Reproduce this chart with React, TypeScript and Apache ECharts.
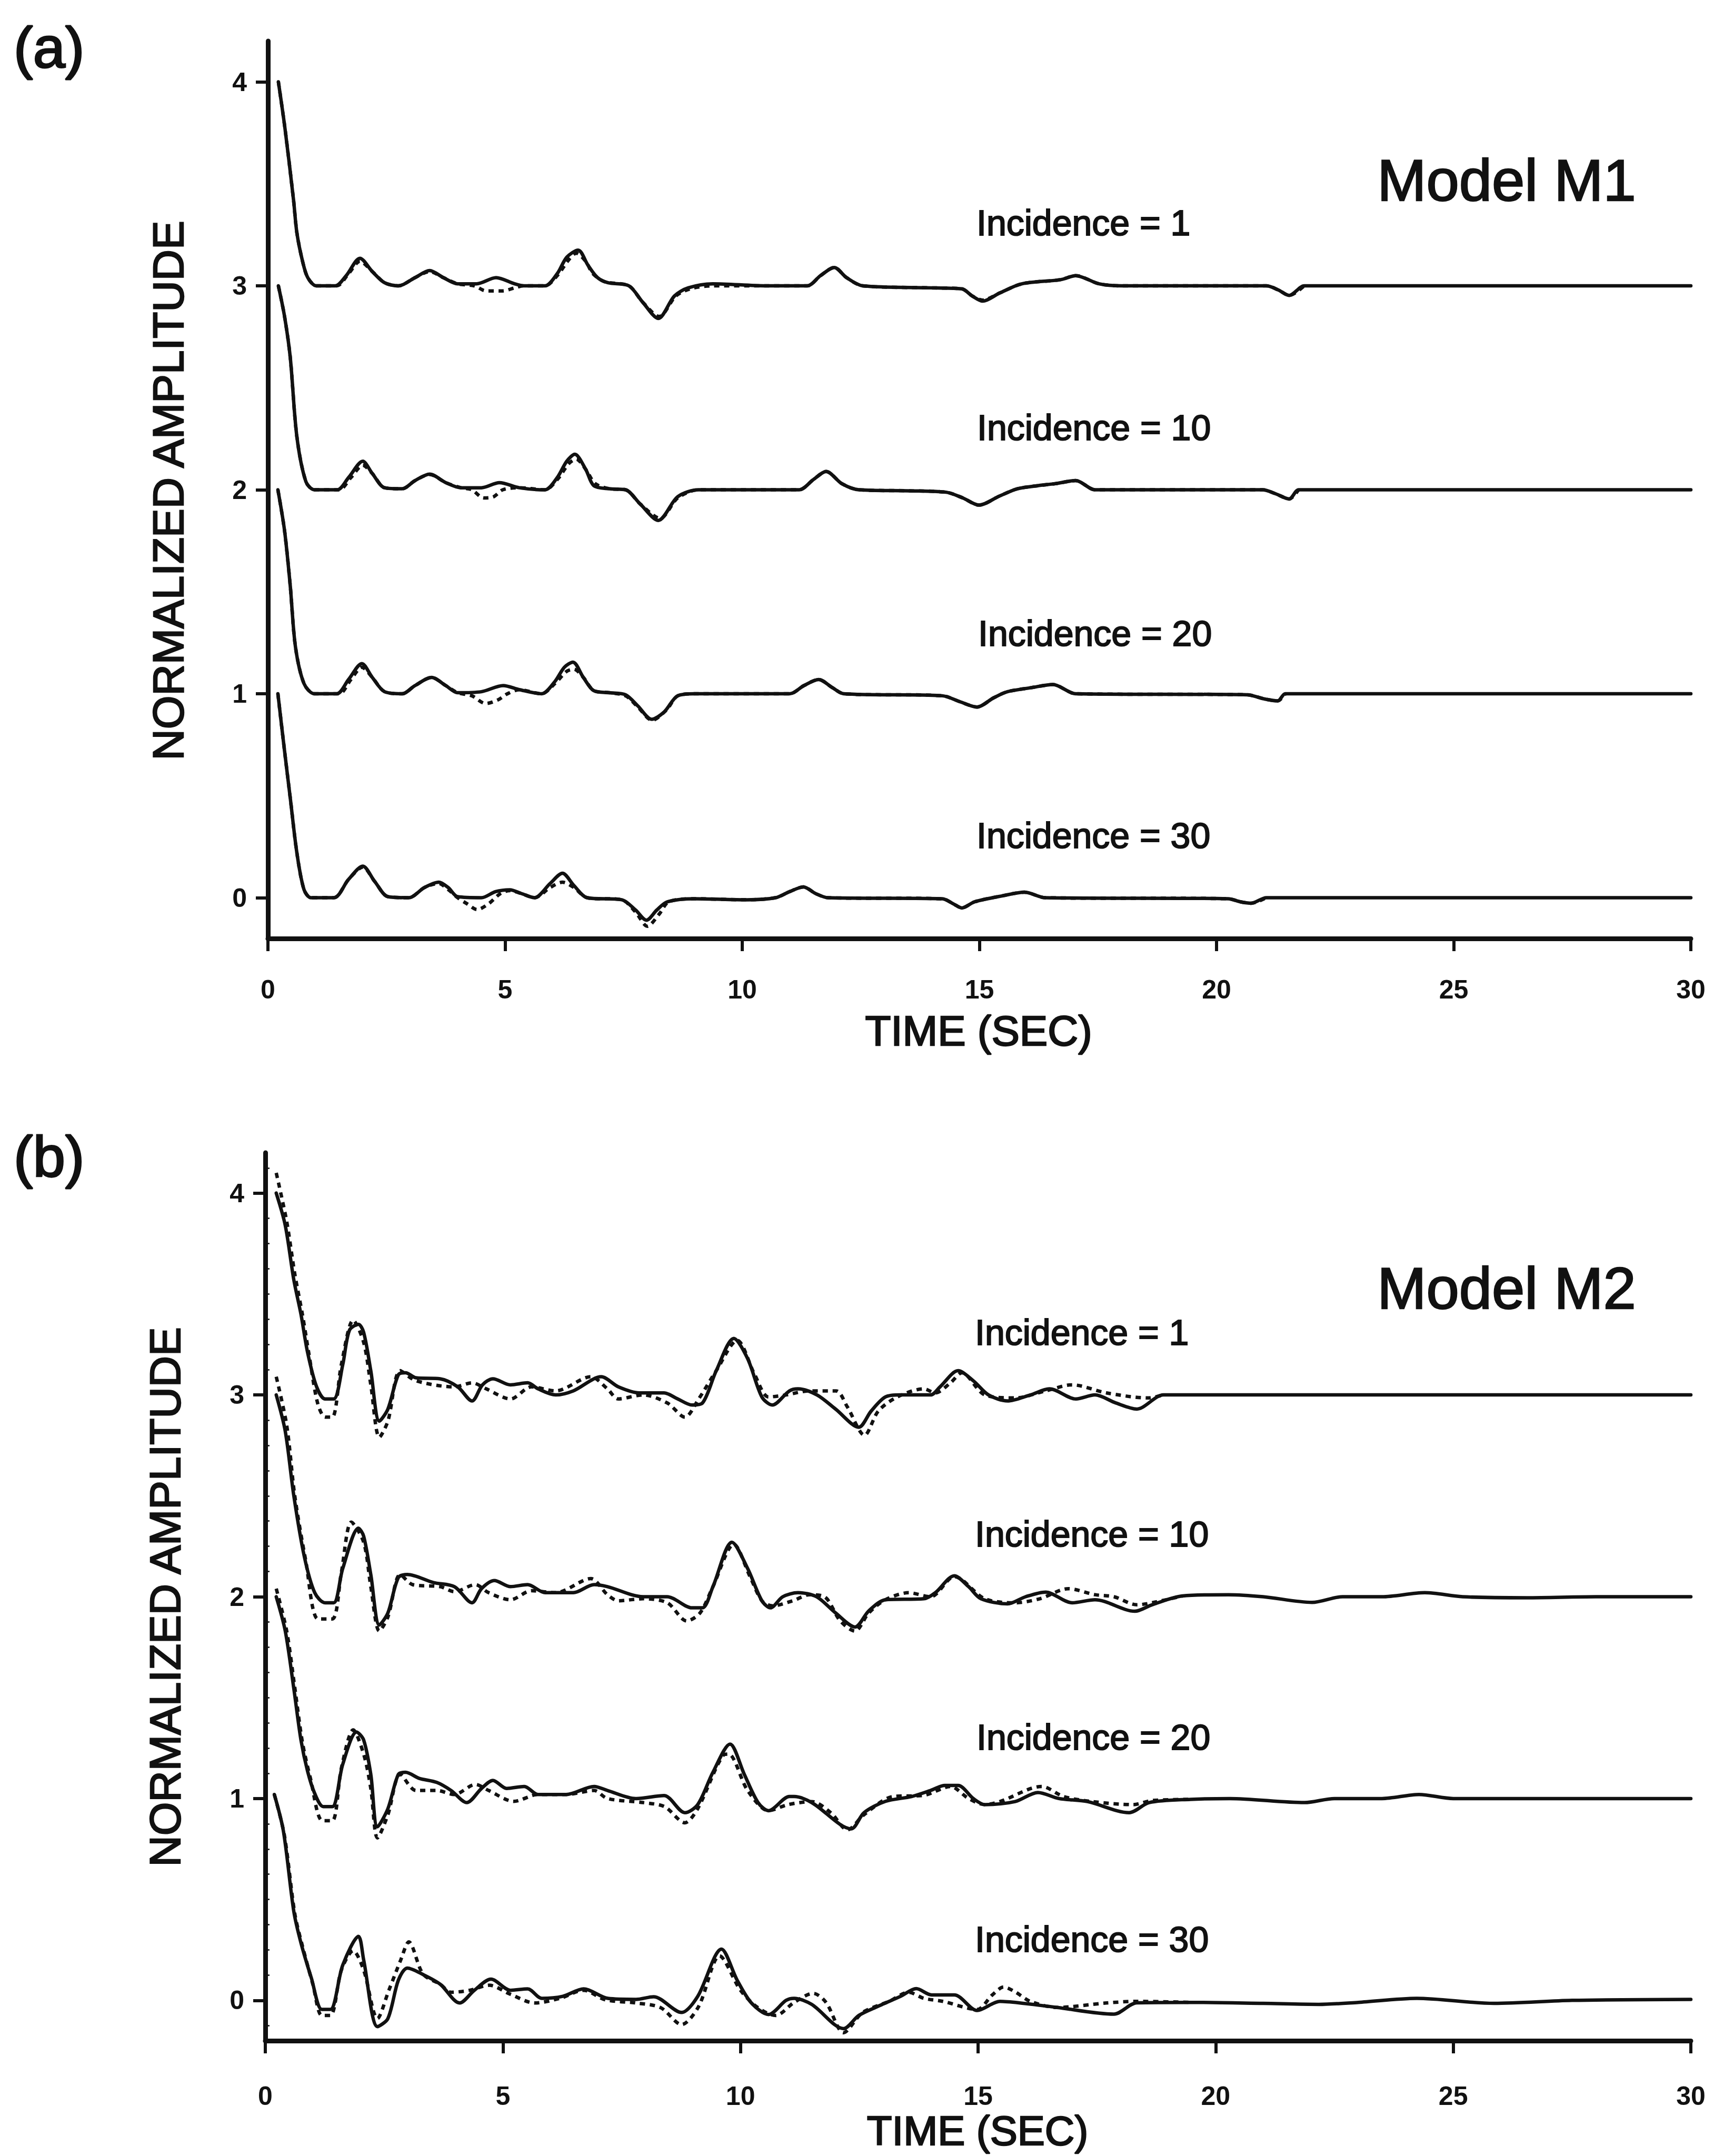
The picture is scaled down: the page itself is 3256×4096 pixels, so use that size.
import React, { useEffect, useRef } from "react";
import * as echarts from "echarts";

type Pt = [number, number];

// ---------- Panel (a) : Model M1 ----------
const A_INC1_SOLID: Pt[] = [[0.22,4.0],[0.36,3.77],[0.54,3.42],[0.61,3.26],[0.73,3.12],[0.84,3.04],[1.02,3.0],[1.42,3.0],[1.65,3.05],[1.94,3.135],[2.2,3.07],[2.46,3.015],[2.75,3.0],[3.1,3.04],[3.41,3.075],[3.7,3.04],[4.0,3.01],[4.4,3.01],[4.81,3.04],[5.2,3.01],[5.4,3.0],[5.84,3.0],[6.1,3.06],[6.3,3.14],[6.54,3.175],[6.75,3.1],[6.95,3.04],[7.17,3.015],[7.61,3.0],[7.9,2.92],[8.23,2.84],[8.57,2.95],[8.86,2.99],[9.38,3.01],[10.5,3.0],[11.37,3.0],[11.65,3.05],[11.94,3.09],[12.2,3.04],[12.54,3.0],[14.0,2.99],[14.63,2.985],[14.85,2.95],[15.07,2.925],[15.43,2.965],[15.9,3.01],[16.71,3.03],[17.03,3.05],[17.52,3.01],[18.0,3.0],[21.05,3.0],[21.3,2.98],[21.53,2.953],[21.85,3.0],[22.0,3.0],[30,3.0]];
const A_INC1_DOTTED: Pt[] = [[0.22,4.0],[0.36,3.77],[0.54,3.42],[0.61,3.26],[0.73,3.12],[0.84,3.04],[1.02,3.0],[1.45,3.0],[1.7,3.06],[1.94,3.12],[2.2,3.07],[2.46,3.015],[2.75,3.0],[3.1,3.04],[3.41,3.07],[3.7,3.04],[4.0,3.01],[4.35,3.0],[4.6,2.975],[4.95,2.975],[5.2,2.99],[5.4,3.0],[5.84,3.0],[6.1,3.05],[6.35,3.13],[6.5,3.16],[6.7,3.12],[6.85,3.06],[7.1,3.02],[7.61,3.0],[7.9,2.92],[8.25,2.85],[8.6,2.95],[8.9,2.985],[9.38,3.0],[10.5,3.0],[11.37,3.0],[11.65,3.05],[11.94,3.09],[12.2,3.04],[12.54,3.0],[14.0,2.99],[14.63,2.985],[14.85,2.95],[15.07,2.93],[15.43,2.965],[15.9,3.01],[16.71,3.03],[17.03,3.05],[17.52,3.01],[18.0,3.0],[21.05,3.0],[21.3,2.98],[21.53,2.953],[21.85,3.0]];

const A_INC10_SOLID: Pt[] = [[0.22,3.0],[0.35,2.85],[0.47,2.65],[0.61,2.26],[0.8,2.04],[0.98,2.0],[1.46,2.0],[1.7,2.06],[2.0,2.14],[2.2,2.08],[2.46,2.01],[2.83,2.005],[3.1,2.045],[3.41,2.077],[3.75,2.035],[4.07,2.01],[4.5,2.01],[4.88,2.035],[5.3,2.01],[5.84,2.0],[6.1,2.06],[6.3,2.14],[6.47,2.174],[6.7,2.1],[6.87,2.02],[7.2,2.005],[7.54,2.0],[7.85,1.93],[8.23,1.85],[8.64,1.966],[9.08,2.0],[10.5,2.0],[11.2,2.0],[11.5,2.05],[11.77,2.09],[12.1,2.03],[12.46,2.0],[13.5,1.995],[14.3,1.988],[14.65,1.96],[14.99,1.925],[15.43,1.97],[15.8,2.005],[16.23,2.02],[16.6,2.03],[17.03,2.045],[17.44,2.0],[18.0,2.0],[20.97,2.0],[21.25,1.98],[21.53,1.955],[21.73,2.0],[22.0,2.0],[30,2.0]];
const A_INC10_DOTTED: Pt[] = [[0.22,3.0],[0.35,2.85],[0.47,2.65],[0.61,2.26],[0.8,2.04],[0.98,2.0],[1.5,2.0],[1.75,2.06],[2.0,2.12],[2.2,2.08],[2.46,2.01],[2.83,2.005],[3.1,2.045],[3.41,2.075],[3.75,2.035],[4.07,2.01],[4.3,2.0],[4.55,1.96],[4.75,1.965],[4.95,2.0],[5.3,2.01],[5.84,2.0],[6.1,2.05],[6.35,2.13],[6.5,2.15],[6.7,2.1],[6.9,2.03],[7.2,2.005],[7.54,2.0],[7.85,1.93],[8.27,1.86],[8.64,1.96],[9.08,2.0],[10.5,2.0],[11.2,2.0],[11.5,2.05],[11.77,2.09],[12.1,2.03],[12.46,2.0],[13.5,1.995],[14.3,1.988],[14.65,1.96],[14.99,1.925],[15.43,1.97],[15.8,2.005],[16.23,2.02],[16.6,2.03],[17.03,2.045],[17.44,2.0],[18.0,2.0],[20.97,2.0],[21.25,1.98],[21.53,1.955],[21.73,2.0]];

const A_INC20_SOLID: Pt[] = [[0.21,2.0],[0.35,1.8],[0.47,1.53],[0.58,1.23],[0.76,1.05],[0.98,1.0],[1.45,1.0],[1.7,1.07],[1.98,1.148],[2.2,1.08],[2.46,1.01],[2.83,1.0],[3.1,1.04],[3.45,1.08],[3.75,1.04],[4.0,1.005],[4.5,1.01],[4.96,1.04],[5.3,1.02],[5.77,1.0],[6.05,1.06],[6.25,1.13],[6.43,1.155],[6.65,1.08],[6.87,1.015],[7.2,1.005],[7.54,0.995],[7.8,0.94],[8.09,0.875],[8.35,0.91],[8.64,0.99],[9.0,1.0],[11.0,1.0],[11.3,1.04],[11.61,1.07],[11.9,1.03],[12.14,1.0],[14.22,0.99],[14.6,0.96],[14.95,0.935],[15.3,0.98],[15.59,1.01],[16.1,1.03],[16.55,1.045],[17.03,1.0],[20.65,0.995],[21.0,0.975],[21.29,0.965],[21.45,1.0],[22.0,1.0],[30,1.0]];
const A_INC20_DOTTED: Pt[] = [[0.21,2.0],[0.35,1.8],[0.47,1.53],[0.58,1.23],[0.76,1.05],[0.98,1.0],[1.5,1.0],[1.75,1.07],[1.98,1.13],[2.2,1.08],[2.46,1.01],[2.83,1.0],[3.1,1.04],[3.45,1.08],[3.75,1.04],[4.0,1.005],[4.3,0.99],[4.59,0.952],[4.85,0.97],[5.05,1.0],[5.3,1.02],[5.77,1.0],[6.05,1.05],[6.3,1.11],[6.45,1.12],[6.65,1.08],[6.87,1.015],[7.2,1.005],[7.54,0.99],[7.8,0.935],[8.1,0.87],[8.4,0.92],[8.64,0.99],[9.0,1.0],[11.0,1.0],[11.3,1.04],[11.61,1.07],[11.9,1.03],[12.14,1.0],[14.22,0.99],[14.6,0.96],[14.95,0.935],[15.3,0.98],[15.59,1.01],[16.1,1.03],[16.55,1.045],[17.03,1.0],[20.65,0.995],[21.0,0.975],[21.29,0.965],[21.45,1.0]];

const A_INC30_SOLID: Pt[] = [[0.21,1.0],[0.35,0.72],[0.47,0.49],[0.61,0.22],[0.76,0.04],[0.91,0.0],[1.39,0.0],[1.7,0.09],[2.0,0.155],[2.25,0.08],[2.53,0.005],[2.97,0.0],[3.3,0.05],[3.6,0.076],[3.8,0.05],[4.0,0.005],[4.5,0.0],[4.8,0.03],[5.1,0.039],[5.35,0.02],[5.62,0.0],[5.95,0.07],[6.21,0.12],[6.45,0.06],[6.73,0.0],[7.46,-0.01],[7.75,-0.06],[7.98,-0.11],[8.2,-0.06],[8.42,-0.02],[9.0,-0.005],[10.1,-0.01],[10.7,0.0],[11.0,0.03],[11.29,0.053],[11.55,0.02],[11.81,0.0],[14.22,-0.005],[14.45,-0.03],[14.63,-0.05],[14.9,-0.02],[15.5,0.01],[15.95,0.027],[16.39,0.0],[20.25,-0.005],[20.5,-0.02],[20.73,-0.027],[21.05,0.0],[21.3,0.0],[30,0.0]];
const A_INC30_DOTTED: Pt[] = [[0.21,1.0],[0.35,0.72],[0.47,0.49],[0.61,0.22],[0.76,0.04],[0.91,0.0],[1.39,0.0],[1.7,0.09],[2.0,0.15],[2.25,0.08],[2.53,0.005],[2.97,0.0],[3.3,0.05],[3.6,0.07],[3.8,0.04],[4.0,0.0],[4.2,-0.03],[4.41,-0.058],[4.65,-0.03],[4.9,0.02],[5.1,0.035],[5.35,0.02],[5.62,0.0],[5.95,0.05],[6.21,0.076],[6.45,0.05],[6.73,0.0],[7.46,-0.01],[7.75,-0.07],[8.0,-0.14],[8.25,-0.08],[8.45,-0.02],[9.0,-0.005],[10.1,-0.01],[10.7,0.0],[11.0,0.03],[11.29,0.053],[11.55,0.02],[11.81,0.0],[14.22,-0.005],[14.45,-0.03],[14.63,-0.05],[14.9,-0.02],[15.5,0.01],[15.95,0.027],[16.39,0.0],[20.25,-0.005],[20.5,-0.02],[20.73,-0.027],[21.05,0.0]];

// ---------- Panel (b) : Model M2 ----------
const B_INC1_SOLID: Pt[] = [[0.23,4.0],[0.42,3.84],[0.6,3.57],[0.75,3.4],[0.89,3.21],[1.08,3.04],[1.26,2.98],[1.44,2.98],[1.63,3.15],[1.77,3.32],[1.96,3.35],[2.07,3.31],[2.22,3.12],[2.4,2.87],[2.58,2.93],[2.8,3.1],[2.95,3.11],[3.17,3.085],[3.68,3.08],[4.05,3.04],[4.35,2.97],[4.57,3.05],[4.79,3.08],[5.16,3.05],[5.52,3.06],[5.74,3.03],[6.11,3.0],[6.48,3.02],[7.07,3.09],[7.43,3.04],[7.87,3.01],[8.39,3.01],[8.68,2.98],[8.98,2.95],[9.2,2.96],[9.49,3.12],[9.86,3.28],[10.15,3.18],[10.45,2.99],[10.67,2.95],[11.03,3.02],[11.21,3.03],[11.61,3.0],[12.0,2.93],[12.49,2.84],[12.75,2.92],[13.05,2.99],[13.37,3.0],[14.0,3.0],[14.2,3.04],[14.58,3.12],[14.9,3.07],[15.22,3.0],[15.62,2.97],[16.1,3.0],[16.5,3.03],[17.06,2.98],[17.46,3.0],[17.9,2.96],[18.34,2.93],[18.9,3.0],[19.2,3.0],[30,3.0]];
const B_INC1_DOTTED: Pt[] = [[0.23,4.1],[0.45,3.86],[0.62,3.6],[0.78,3.4],[0.92,3.2],[1.1,2.96],[1.26,2.89],[1.41,2.89],[1.6,3.15],[1.85,3.37],[2.07,3.26],[2.22,3.05],[2.4,2.79],[2.58,2.87],[2.84,3.12],[3.17,3.07],[3.98,3.04],[4.35,3.06],[4.65,3.03],[5.16,2.98],[5.6,3.04],[6.11,3.02],[6.85,3.09],[7.2,3.03],[7.43,2.98],[7.95,3.0],[8.46,2.96],[8.83,2.89],[9.12,2.98],[9.49,3.12],[9.93,3.27],[10.3,3.1],[10.59,2.99],[10.96,3.0],[11.45,3.02],[12.01,3.02],[12.25,2.94],[12.61,2.8],[12.9,2.92],[13.3,2.99],[13.86,3.03],[14.1,3.01],[14.42,3.06],[14.66,3.11],[15.14,3.0],[15.78,2.985],[16.42,3.02],[16.98,3.05],[17.7,3.01],[18.58,2.985],[18.9,3.0]];

const B_INC10_SOLID: Pt[] = [[0.23,3.0],[0.42,2.82],[0.6,2.5],[0.82,2.2],[1.04,2.02],[1.26,1.97],[1.44,1.97],[1.63,2.14],[1.96,2.34],[2.07,2.3],[2.22,2.11],[2.4,1.86],[2.58,1.92],[2.8,2.095],[2.99,2.11],[3.54,2.07],[3.98,2.05],[4.35,1.97],[4.55,2.04],[4.82,2.08],[5.16,2.05],[5.52,2.06],[5.89,2.02],[6.48,2.02],[6.92,2.06],[7.2,2.05],[7.95,2.0],[8.46,2.0],[8.98,1.945],[9.2,1.945],[9.42,2.05],[9.82,2.27],[10.15,2.14],[10.45,1.98],[10.63,1.945],[10.89,2.0],[11.21,2.02],[11.6,2.0],[12.0,1.92],[12.41,1.85],[12.7,1.93],[13.05,1.985],[13.86,1.99],[14.1,2.02],[14.5,2.104],[14.8,2.05],[15.06,1.99],[15.62,1.965],[16.0,2.0],[16.42,2.023],[16.98,1.97],[17.46,1.985],[18.3,1.928],[18.66,1.96],[19.3,2.004],[20.27,2.01],[21.0,2.0],[22.03,1.972],[22.67,2.0],[23.5,2.0],[24.4,2.02],[25.2,2.0],[26.55,1.995],[28.0,2.0],[30,2.0]];
const B_INC10_DOTTED: Pt[] = [[0.23,3.09],[0.45,2.85],[0.62,2.5],[0.85,2.18],[1.11,1.89],[1.41,1.89],[1.6,2.12],[1.81,2.37],[2.07,2.27],[2.22,2.05],[2.4,1.83],[2.58,1.9],[2.84,2.11],[3.1,2.06],[3.68,2.05],[3.98,2.025],[4.42,2.06],[4.7,2.02],[5.16,1.985],[5.6,2.03],[6.11,2.02],[6.85,2.09],[7.2,2.01],[7.43,1.98],[7.95,1.99],[8.46,1.97],[8.87,1.88],[9.15,1.92],[9.42,2.05],[9.86,2.26],[10.2,2.1],[10.45,1.98],[10.67,1.955],[11.1,1.98],[11.45,2.01],[11.77,2.0],[12.1,1.88],[12.41,1.83],[12.7,1.92],[13.05,1.985],[13.54,2.02],[14.0,2.0],[14.5,2.1],[15.14,1.99],[15.78,1.97],[16.3,1.99],[16.9,2.04],[17.46,2.01],[17.86,2.0],[18.34,1.96],[18.66,1.97],[19.3,2.004]];

const B_INC20_SOLID: Pt[] = [[0.23,2.0],[0.42,1.83],[0.6,1.545],[0.75,1.29],[0.89,1.135],[1.04,1.025],[1.22,0.96],[1.41,0.96],[1.63,1.17],[1.92,1.33],[2.07,1.29],[2.22,1.12],[2.36,0.86],[2.58,0.95],[2.8,1.12],[2.95,1.13],[3.24,1.1],[3.61,1.08],[3.91,1.04],[4.24,0.98],[4.55,1.05],[4.79,1.09],[5.08,1.05],[5.45,1.06],[5.74,1.02],[6.33,1.02],[6.92,1.06],[7.2,1.04],[7.8,1.0],[8.39,1.015],[8.83,0.93],[9.1,0.97],[9.42,1.13],[9.78,1.27],[10.08,1.12],[10.37,0.98],[10.59,0.94],[11.03,1.01],[11.13,1.01],[11.5,0.98],[12.33,0.85],[12.6,0.93],[13.05,0.986],[13.6,1.01],[14.0,1.04],[14.3,1.065],[14.58,1.065],[14.9,1.0],[15.14,0.97],[15.78,0.985],[16.26,1.03],[16.7,1.0],[17.3,0.985],[18.18,0.93],[18.6,0.98],[19.47,0.996],[20.3,1.0],[21.87,0.98],[22.5,1.0],[23.5,1.0],[24.28,1.02],[25.0,1.0],[26.13,1.0],[28.0,1.0],[30,1.0]];
const B_INC20_DOTTED: Pt[] = [[0.23,2.04],[0.45,1.83],[0.62,1.55],[0.78,1.28],[0.95,1.1],[1.2,0.89],[1.41,0.89],[1.6,1.15],[1.85,1.34],[2.07,1.22],[2.22,1.05],[2.36,0.805],[2.58,0.92],[2.84,1.12],[3.17,1.04],[3.61,1.04],[3.98,1.02],[4.42,1.07],[4.7,1.04],[5.23,0.986],[5.74,1.02],[6.33,1.02],[6.92,1.04],[7.2,1.0],[7.95,0.98],[8.4,0.96],[8.83,0.88],[9.1,0.95],[9.64,1.215],[9.75,1.22],[10.15,1.04],[10.59,0.94],[11.0,0.97],[11.5,0.985],[11.9,0.93],[12.25,0.845],[12.6,0.92],[13.21,1.01],[13.86,1.016],[14.42,1.06],[14.8,1.0],[15.14,0.97],[15.46,0.985],[16.34,1.06],[16.8,1.01],[17.4,0.985],[18.26,0.97],[18.66,0.99],[19.47,0.996]];

const B_INC30_SOLID: Pt[] = [[0.19,1.02],[0.38,0.84],[0.6,0.44],[0.75,0.285],[0.97,0.11],[1.19,-0.045],[1.37,-0.045],[1.63,0.175],[1.96,0.317],[2.07,0.2],[2.36,-0.13],[2.58,-0.09],[2.8,0.1],[2.99,0.16],[3.32,0.128],[3.68,0.08],[4.09,-0.013],[4.4,0.05],[4.75,0.105],[5.16,0.05],[5.52,0.057],[5.82,0.01],[6.26,0.02],[6.7,0.057],[7.21,0.01],[7.8,0.005],[8.17,0.018],[8.76,-0.06],[9.1,0.02],[9.6,0.254],[9.93,0.1],[10.23,-0.013],[10.59,-0.07],[10.96,0.0],[11.13,0.01],[11.5,-0.02],[12.17,-0.14],[12.49,-0.075],[12.89,-0.03],[13.37,0.02],[13.7,0.058],[14.02,0.027],[14.5,0.027],[14.98,-0.05],[15.46,-0.005],[15.86,-0.012],[16.66,-0.035],[17.86,-0.068],[18.34,-0.012],[19.47,-0.01],[21.0,-0.015],[22.17,-0.02],[23.0,-0.01],[24.23,0.01],[25.86,-0.015],[27.5,0.0],[30,0.005]];
const B_INC30_DOTTED: Pt[] = [[0.19,1.02],[0.4,0.82],[0.62,0.43],[0.78,0.27],[1.0,0.08],[1.19,-0.075],[1.37,-0.075],[1.6,0.15],[1.85,0.246],[2.07,0.15],[2.36,-0.09],[2.6,0.05],[2.85,0.2],[3.02,0.29],[3.32,0.13],[3.68,0.08],[3.91,0.04],[4.3,0.05],[4.71,0.075],[5.16,0.03],[5.67,-0.013],[6.2,0.01],[6.7,0.05],[7.15,0.003],[7.8,-0.013],[8.32,-0.036],[8.76,-0.12],[9.12,-0.03],[9.56,0.22],[10.0,0.05],[10.36,-0.035],[10.74,-0.075],[11.13,-0.01],[11.53,0.035],[11.8,-0.01],[12.17,-0.16],[12.57,-0.06],[13.13,-0.005],[13.54,0.04],[13.86,0.01],[14.26,-0.005],[14.98,-0.045],[15.3,0.027],[15.54,0.066],[15.78,0.042],[16.1,-0.005],[16.66,-0.035],[17.7,-0.013],[18.34,-0.005],[19.47,-0.01]];

// ---------- Axis ticks and labels ----------
const X_MIN = 0;
const X_MAX = 30;
const X_INTERVAL = 5;
const Y_MIN = -0.2;
const Y_MAX = 4.2;
const Y_TICKS = [0, 1, 2, 3, 4];
const PANEL_LABELS = ["(a)", "(b)"];
const MODEL_LABELS = ["Model M1", "Model M2"];
const INCIDENCE_LABELS = ["Incidence = 1", "Incidence = 10", "Incidence = 20", "Incidence = 30"];
const X_TITLE = "TIME (SEC)";
const Y_TITLE = "NORMALIZED AMPLITUDE";

const FONT = '"Liberation Sans", Arial, Helvetica, sans-serif';
const INK = "#111111";

export default function App() {
  const ref = useRef<HTMLDivElement>(null);

  useEffect(() => {
    if (!ref.current) return;
    const chart = echarts.init(ref.current, undefined, { renderer: "svg" });

    const minorTicks: number[] = [];
    for (let k = -1; k <= 33; k++) {
      if (k % 8 !== 0) minorTicks.push(k / 8);
    }

    const makeX = (gridIndex: number, margin: number) => ({
      type: "value",
      gridIndex,
      min: X_MIN,
      max: X_MAX,
      interval: X_INTERVAL,
      axisLine: { show: true, onZero: false, lineStyle: { color: INK, width: 9 } },
      axisTick: { show: true, inside: false, length: 24, lineStyle: { color: INK, width: 6 } },
      axisLabel: { show: true, margin, fontSize: 50, fontWeight: "bold", color: INK, fontFamily: FONT },
      splitLine: { show: false },
    });

    const makeY = (gridIndex: number) => ({
      type: "value",
      gridIndex,
      min: Y_MIN,
      max: Y_MAX,
      axisLine: { show: true, onZero: false, lineStyle: { color: INK, width: 9 } },
      axisTick: { show: true, inside: false, length: 23, customValues: Y_TICKS, lineStyle: { color: INK, width: 6 } },
      axisLabel: { show: true, margin: 40, customValues: Y_TICKS, fontSize: 50, fontWeight: "bold", color: INK, fontFamily: FONT },
      splitLine: { show: false },
    });

    const traces: { panel: number; data: Pt[]; dotted: boolean }[] = [
      { panel: 0, data: A_INC1_DOTTED, dotted: true },
      { panel: 0, data: A_INC10_DOTTED, dotted: true },
      { panel: 0, data: A_INC20_DOTTED, dotted: true },
      { panel: 0, data: A_INC30_DOTTED, dotted: true },
      { panel: 1, data: B_INC1_DOTTED, dotted: true },
      { panel: 1, data: B_INC10_DOTTED, dotted: true },
      { panel: 1, data: B_INC20_DOTTED, dotted: true },
      { panel: 1, data: B_INC30_DOTTED, dotted: true },
      { panel: 0, data: A_INC1_SOLID, dotted: false },
      { panel: 0, data: A_INC10_SOLID, dotted: false },
      { panel: 0, data: A_INC20_SOLID, dotted: false },
      { panel: 0, data: A_INC30_SOLID, dotted: false },
      { panel: 1, data: B_INC1_SOLID, dotted: false },
      { panel: 1, data: B_INC10_SOLID, dotted: false },
      { panel: 1, data: B_INC20_SOLID, dotted: false },
      { panel: 1, data: B_INC30_SOLID, dotted: false },
    ];

    const series = traces.map((tr) => ({
      type: "line",
      xAxisIndex: tr.panel,
      yAxisIndex: tr.panel,
      data: tr.data,
      showSymbol: false,
      symbol: "none",
      smooth: 0.3,
      silent: true,
      z: tr.dotted ? 2 : 3,
      lineStyle: {
        color: INK,
        width: 6.5,
        type: tr.dotted ? [10, 9] : "solid",
        cap: tr.dotted ? "butt" : "round",
        join: "round",
      },
    }));

    const txt = (
      text: string,
      x: number,
      y: number,
      size: number,
      align: string,
      outline: number,
      rotation = 0
    ) => ({
      type: "text",
      x,
      y,
      rotation,
      silent: true,
      style: {
        text,
        fill: INK,
        stroke: INK,
        lineWidth: outline,
        fontSize: size,
        fontFamily: FONT,
        fontWeight: "normal",
        align,
        textAlign: align,
        verticalAlign: "middle",
        textVerticalAlign: "middle",
      },
    });

    const graphic = [
      txt(PANEL_LABELS[0], 26, 89, 110, "left", 3),
      txt(PANEL_LABELS[1], 26, 2196, 110, "left", 3),
      txt(MODEL_LABELS[0], 2862, 342, 112, "center", 2.5),
      txt(MODEL_LABELS[1], 2862, 2447, 112, "center", 2.5),
      txt(INCIDENCE_LABELS[0], 1855, 423, 68, "left", 2),
      txt(INCIDENCE_LABELS[1], 1856, 812, 68, "left", 2),
      txt(INCIDENCE_LABELS[2], 1858, 1203, 68, "left", 2),
      txt(INCIDENCE_LABELS[3], 1855, 1587, 68, "left", 2),
      txt(INCIDENCE_LABELS[0], 1852, 2531, 68, "left", 2),
      txt(INCIDENCE_LABELS[1], 1852, 2914, 68, "left", 2),
      txt(INCIDENCE_LABELS[2], 1855, 3300, 68, "left", 2),
      txt(INCIDENCE_LABELS[3], 1852, 3684, 68, "left", 2),
      txt(X_TITLE, 1859, 1958, 80, "center", 2.5),
      txt(X_TITLE, 1857, 4048, 78, "center", 2.5),
      txt(Y_TITLE, 319, 932, 82, "center", 2.5, Math.PI / 2),
      txt(Y_TITLE, 313, 3034, 82, "center", 2.5, Math.PI / 2),
    ];

    chart.setOption({
      animation: false,
      backgroundColor: "#ffffff",
      grid: [
        { left: 509, top: 78, width: 2703, height: 1705, containLabel: false },
        { left: 504, top: 2190, width: 2708, height: 1687, containLabel: false },
      ],
      xAxis: [makeX(0, 72), makeX(1, 80)],
      yAxis: [
        makeY(0),
        makeY(1),
        {
          type: "value",
          gridIndex: 1,
          min: Y_MIN,
          max: Y_MAX,
          axisLine: { show: false },
          axisLabel: { show: false },
          splitLine: { show: false },
          axisTick: { show: true, inside: false, length: 8, customValues: minorTicks, lineStyle: { color: INK, width: 2.5 } },
        },
      ],
      series,
      graphic,
    });

    return () => {
      chart.dispose();
    };
  }, []);

  return (
    <div
      ref={ref}
      style={{ position: "absolute", left: 0, top: 0, width: 3256, height: 4096, background: "#ffffff" }}
    />
  );
}
